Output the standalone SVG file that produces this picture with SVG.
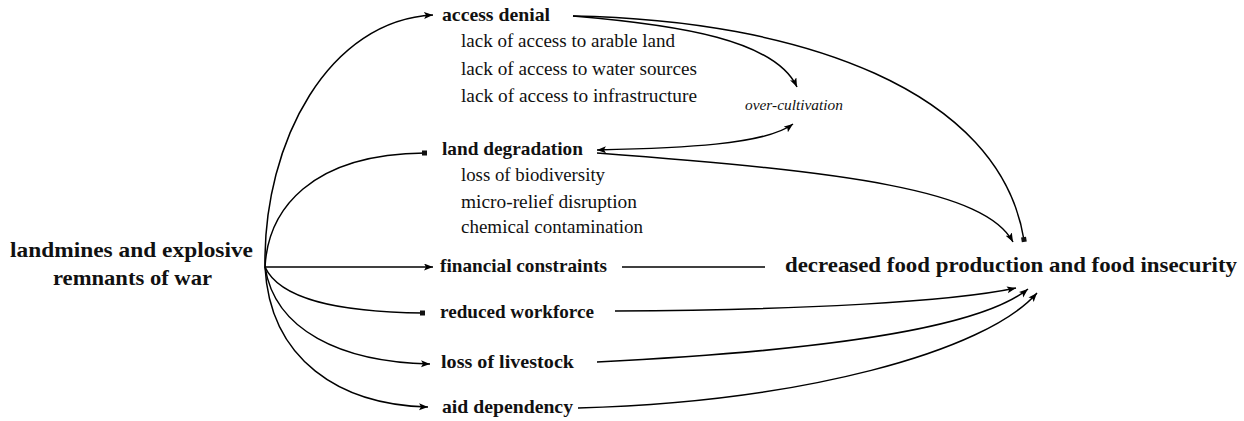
<svg xmlns="http://www.w3.org/2000/svg" width="1244" height="421" viewBox="0 0 1244 421">
<style>
text{fill:#111;font-family:"Liberation Serif",serif}
.b{font-weight:bold;font-size:19px}
.s{font-size:18px}
.t{font-weight:bold;font-size:22px}
.i{font-style:italic;font-size:15px}
.c{fill:none;stroke:#000;stroke-width:1.5}
</style>
<defs>
<marker id="ar" markerUnits="userSpaceOnUse" markerWidth="10" markerHeight="8" refX="9" refY="3.5" orient="auto-start-reverse"><path d="M0,0 L9,3.5 L0,7 L2,3.5 z" fill="#000"/></marker>
<marker id="sq" markerUnits="userSpaceOnUse" markerWidth="8" markerHeight="8" refX="4" refY="4" orient="auto"><rect x="1" y="1.5" width="5" height="5" fill="#111"/></marker>
</defs>
<g id="connectors">
<path class="c" d="M265,267 C263,140 330,20 433,15" marker-end="url(#ar)"/>
<path class="c" d="M265,267 C268,210 310,154 425,153" marker-end="url(#sq)"/>
<path class="c" d="M265,267 L433,267" marker-end="url(#ar)"/>
<path class="c" d="M265,267 C280,300 340,312 423,313" marker-end="url(#sq)"/>
<path class="c" d="M265,267 C275,330 340,362 430,364" marker-end="url(#ar)"/>
<path class="c" d="M265,267 C270,360 340,405 428,407" marker-end="url(#ar)"/>
<path class="c" d="M573,16 C800,20 1000,90 1024,240" marker-end="url(#sq)"/>
<path class="c" d="M573,16 C680,25 775,40 797,87" marker-end="url(#ar)"/>
<path class="c" d="M597,150 C680,148 765,145 793,124" marker-start="url(#ar)" marker-end="url(#ar)"/>
<path class="c" d="M597,153 C850,172 985,190 1013,242" marker-end="url(#ar)"/>
<path class="c" d="M622,267 L765,267"/>
<path class="c" d="M615,311 C800,310 950,302 1016,288" marker-end="url(#ar)"/>
<path class="c" d="M597,362 C800,352 975,332 1028,289" marker-end="url(#ar)"/>
<path class="c" d="M578,408 C800,402 985,352 1037,293" marker-end="url(#ar)"/>
</g>
<g id="source">
<text class="t" x="10" y="257" textLength="243" lengthAdjust="spacingAndGlyphs">landmines and explosive</text>
<text class="t" x="53" y="285" textLength="159" lengthAdjust="spacingAndGlyphs">remnants of war</text>
</g>
<g id="access-denial">
<text class="b" x="442" y="21" textLength="108" lengthAdjust="spacingAndGlyphs">access denial</text>
<text class="s" x="461" y="47" textLength="214" lengthAdjust="spacingAndGlyphs">lack of access to arable land</text>
<text class="s" x="461" y="75" textLength="236" lengthAdjust="spacingAndGlyphs">lack of access to water sources</text>
<text class="s" x="461" y="102" textLength="236" lengthAdjust="spacingAndGlyphs">lack of access to infrastructure</text>
</g>
<g id="over-cultivation">
<text class="i" x="745" y="110" textLength="98" lengthAdjust="spacingAndGlyphs">over-cultivation</text>
</g>
<g id="land-degradation">
<text class="b" x="442" y="155" textLength="141" lengthAdjust="spacingAndGlyphs">land degradation</text>
<text class="s" x="461" y="181" textLength="144" lengthAdjust="spacingAndGlyphs">loss of biodiversity</text>
<text class="s" x="461" y="208" textLength="176" lengthAdjust="spacingAndGlyphs">micro-relief disruption</text>
<text class="s" x="461" y="233" textLength="182" lengthAdjust="spacingAndGlyphs">chemical contamination</text>
</g>
<g id="financial-constraints">
<text class="b" x="440" y="272" textLength="167" lengthAdjust="spacingAndGlyphs">financial constraints</text>
</g>
<g id="reduced-workforce">
<text class="b" x="440" y="318" textLength="154" lengthAdjust="spacingAndGlyphs">reduced workforce</text>
</g>
<g id="loss-of-livestock">
<text class="b" x="441" y="368" textLength="133" lengthAdjust="spacingAndGlyphs">loss of livestock</text>
</g>
<g id="aid-dependency">
<text class="b" x="442" y="413" textLength="131" lengthAdjust="spacingAndGlyphs">aid dependency</text>
</g>
<g id="food-insecurity">
<text class="t" x="785" y="272" textLength="452" lengthAdjust="spacingAndGlyphs">decreased food production and food insecurity</text>
</g>
</svg>
